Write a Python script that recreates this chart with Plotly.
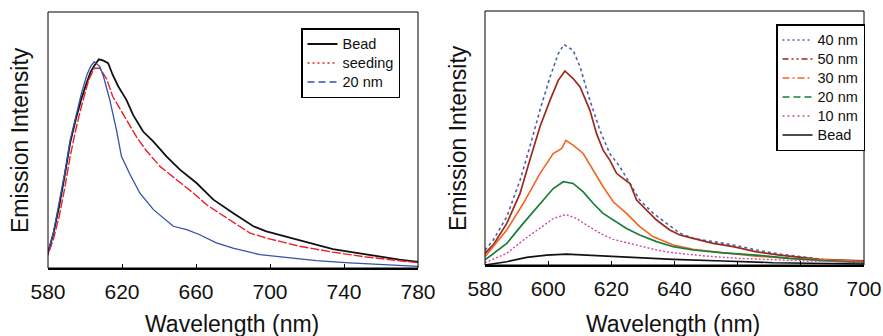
import plotly.graph_objects as go

# ---------- Left panel data ----------
bead_l_x = [578, 580, 583, 586, 589, 592, 595, 598, 601, 603, 605, 607.5, 610, 612.5, 615, 618, 622.4, 626, 631.4, 637, 644, 651.3, 660.3, 669.4, 680, 691, 698, 711, 725, 734, 745, 756, 770, 782]
bead_l_y = [3.3, 5.9, 13.7, 24, 36, 49, 58, 66, 72.5, 76.5, 79, 81.5, 81, 80, 75.4, 70.9, 65.7, 59.8, 53.3, 49.4, 43.6, 38.4, 33.2, 26.7, 21.5, 16.3, 14.3, 11.7, 9.1, 7.4, 6.1, 4.8, 3.3, 2.2]

seed_x = [578, 580, 583, 586, 589, 592, 595, 598, 602, 605, 608, 611.6, 615, 620.6, 628, 633, 640.5, 649.5, 658.5, 665.7, 676.6, 689, 698, 716, 734, 752, 782]
seed_y = [3.0, 5.2, 11.5, 20, 31, 43.6, 54, 63, 73.5, 78, 78, 74, 67, 60, 51, 46, 39.7, 34.5, 29.3, 24.7, 19.5, 13.7, 11.7, 8.5, 6.2, 4.3, 1.9]

nm20_l_x = [578, 580, 583, 586, 589, 592, 595, 598, 601, 603, 605, 608, 610, 613.4, 617, 619.7, 624, 629.6, 637, 647.7, 655, 662, 671, 680, 694.6, 707, 725, 743, 782]
nm20_l_y = [3.3, 6.2, 14, 25, 37, 50, 59, 68, 75.4, 78.7, 80.6, 78.7, 74.8, 65.7, 54, 43.6, 37, 29.3, 22.8, 16.3, 15, 13, 9.8, 7.8, 5.2, 4.2, 2.9, 2.0, 0.6]

# ---------- Right panel data ----------
nm40_x = [580, 582.6, 586.9, 591.1, 594.2, 597.4, 600.6, 603.2, 605, 607.9, 610.1, 613.2, 616.4, 619.5, 622.7, 625.9, 629, 633.3, 637.5, 641.7, 645.9, 652.2, 658.6, 666, 673.3, 679.7, 687, 692.3, 701.3]
nm40_y = [5.9, 9.8, 19, 33.4, 46.5, 61, 74, 83.2, 86.8, 84.5, 78, 64.9, 53, 43.9, 38.7, 32.1, 25.6, 20.3, 16.4, 12.5, 10.5, 9.2, 7.9, 5.9, 4.3, 3.3, 2.2, 1.7, 1.3]

nm50_x = [580, 582.6, 586.9, 591.1, 594.2, 597.4, 600.6, 603.2, 605.3, 607.9, 610.1, 613.2, 615.3, 617.4, 619.5, 621.7, 623.8, 625.9, 628, 631.1, 634.3, 638.5, 641.7, 645.9, 652.2, 658.6, 666, 673.3, 679.7, 686, 701.3]
nm50_y = [4.6, 7.9, 16.4, 28.2, 41.3, 54.4, 64.9, 72.7, 76.4, 73.4, 70.1, 61, 51.8, 45.2, 41.3, 36, 34, 32.1, 25.6, 21.6, 17.7, 13.8, 11.8, 10.5, 8.5, 7.2, 5.2, 3.9, 3.0, 2.2, 1.6]

nm30_x = [580, 586.9, 592.1, 597.4, 601.6, 604.3, 605.6, 607.9, 611.1, 614.3, 617.4, 620.6, 624.8, 629, 633.3, 639.6, 645.9, 655.4, 665.9, 676.5, 687, 701.3]
nm30_y = [3.3, 13.8, 24.2, 36, 43.9, 45.9, 49.1, 47.2, 43.9, 37.4, 30.8, 24.9, 20.3, 15.1, 11.1, 7.9, 6.2, 4.8, 3.5, 2.6, 2.0, 1.3]

nm20_r_x = [580, 586.9, 592.1, 597.4, 601.6, 604.8, 607.9, 611.1, 614.3, 617.4, 620.6, 624.8, 629, 634.3, 639.6, 645.9, 655.4, 665.9, 676.5, 687, 701.3]
nm20_r_y = [2.0, 8.5, 16.4, 24.2, 30.1, 32.8, 32.1, 28.8, 24.2, 20.3, 17.7, 14.4, 11.8, 9.2, 7.2, 5.9, 4.8, 3.9, 2.6, 1.7, 0.9]

nm10_x = [580, 586.9, 592.1, 597.4, 601.6, 605.6, 609, 612.2, 616.4, 620.6, 624.8, 629, 634.3, 639.6, 650.1, 660.7, 671.2, 681.8, 701.3]
nm10_y = [0.9, 4.6, 9.8, 14.4, 18.3, 19.9, 18.3, 15.7, 12.5, 10.1, 8.9, 7.5, 5.9, 4.8, 3.5, 2.6, 2.0, 1.6, 1.0]

bead_r_x = [580, 586.9, 593.2, 599.5, 605.8, 612.2, 618.5, 629, 639.6, 655.4, 671.2, 701.3]
bead_r_y = [0.0, 1.3, 3.0, 3.9, 4.3, 3.9, 3.3, 2.9, 2.2, 1.6, 0.9, 0.4]

left_ticks = [580, 620, 660, 700, 740, 780]
right_ticks = [580, 600, 620, 640, 660, 680, 700]

FONT = "Liberation Sans, Arial, sans-serif"

fig = go.Figure()

# series: (x, y, name, color, plot dash, legend dash, width, axes, legend)
series = [
    (bead_l_x, bead_l_y, "Bead", "#111111", "solid", "solid", 1.8, "x", "y", "legend"),
    (seed_x, seed_y, "seeding", "#e8202a", "9px,2px", "2px,3px", 1.4, "x", "y", "legend"),
    (nm20_l_x, nm20_l_y, "20 nm", "#3352a8", "solid", "7px,4px", 1.3, "x", "y", "legend"),
    (nm40_x, nm40_y, "40 nm", "#4a63b0", "3px,3px", "2px,3px", 1.6, "x2", "y2", "legend2"),
    (nm50_x, nm50_y, "50 nm", "#9b2a1a", "solid", "6px,3px,2px,3px,2px,3px", 1.7, "x2", "y2", "legend2"),
    (nm30_x, nm30_y, "30 nm", "#f26522", "solid", "7px,3px,2px,3px", 1.6, "x2", "y2", "legend2"),
    (nm20_r_x, nm20_r_y, "20 nm", "#1a7d3a", "solid", "7px,4px", 1.7, "x2", "y2", "legend2"),
    (nm10_x, nm10_y, "10 nm", "#d04aa0", "2px,2px", "2px,3px", 1.4, "x2", "y2", "legend2"),
    (bead_r_x, bead_r_y, "Bead", "#111111", "solid", "solid", 1.6, "x2", "y2", "legend2"),
]

for x, y, name, color, pdash, ldash, w, xa, ya, lg in series:
    # drawn curve
    fig.add_trace(go.Scatter(x=x, y=y, mode="lines", showlegend=False,
                             line=dict(color=color, dash=pdash, width=w),
                             xaxis=xa, yaxis=ya))
    # legend entry (empty trace carrying the legend line style)
    fig.add_trace(go.Scatter(x=[None], y=[None], mode="lines",
                             name='<span style="font-size:14.5px">' + name + '</span>',
                             line=dict(color=color, dash=ldash, width=w),
                             xaxis=xa, yaxis=ya, legend=lg))

W, H = 883, 336
lx0, lx1, ly0, ly1 = 48, 418, 268, 12
rx0, rx1, ry0, ry1 = 485, 864, 265, 11

axis_common = dict(showgrid=False, zeroline=False, showline=True, linecolor="black",
                   linewidth=2, ticks="inside", ticklen=4, tickcolor="black",
                   automargin=False, ticklabelstandoff=4,
                   tickfont=dict(family=FONT, size=21, color="#111"))

TITLE_SIZE = 23

fig.update_layout(
    width=W, height=H, margin=dict(l=0, r=0, t=0, b=0, autoexpand=False),
    paper_bgcolor="white", plot_bgcolor="white",
    font=dict(family=FONT, color="#111"),
    xaxis=dict(domain=[lx0 / W, lx1 / W], range=[580, 780], tickvals=left_ticks,
               anchor="y", **axis_common),
    yaxis=dict(domain=[1 - ly0 / H, 1 - ly1 / H], range=[0, 100], showticklabels=False,
               showgrid=False, zeroline=False, showline=False, anchor="x", automargin=False),
    xaxis2=dict(domain=[rx0 / W, rx1 / W], range=[580, 700], tickvals=right_ticks,
                anchor="y2", **axis_common),
    yaxis2=dict(domain=[1 - ry0 / H, 1 - ry1 / H], range=[0, 100], showticklabels=False,
                showgrid=False, zeroline=False, showline=False, anchor="x2", automargin=False),
    legend=dict(x=301 / W, y=1 - 28 / H, xanchor="left", yanchor="top",
                bordercolor="black", borderwidth=1.5, bgcolor="white",
                font=dict(family=FONT, size=12, color="#111"),
                tracegroupgap=0, itemwidth=30),
    legend2=dict(x=776 / W, y=1 - 24 / H, xanchor="left", yanchor="top",
                 bordercolor="black", borderwidth=1.5, bgcolor="white",
                 font=dict(family=FONT, size=12, color="#111"),
                 tracegroupgap=0, itemwidth=30),
    shapes=[
        dict(type="rect", xref="paper", yref="paper", x0=lx0 / W, x1=lx1 / W,
             y0=1 - ly0 / H, y1=1 - ly1 / H, line=dict(color="black", width=1)),
        dict(type="rect", xref="paper", yref="paper", x0=rx0 / W, x1=rx1 / W,
             y0=1 - ry0 / H, y1=1 - ry1 / H, line=dict(color="black", width=1)),
    ],
    annotations=[
        dict(text="Wavelength (nm)", x=232 / W, y=1 - 324 / H, xref="paper", yref="paper",
             xanchor="center", yanchor="middle",
             showarrow=False, font=dict(family=FONT, size=TITLE_SIZE, color="#111")),
        dict(text="Wavelength (nm)", x=673 / W, y=1 - 324 / H, xref="paper", yref="paper",
             xanchor="center", yanchor="middle",
             showarrow=False, font=dict(family=FONT, size=TITLE_SIZE, color="#111")),
        dict(text="Emission Intensity", x=20 / W, y=1 - 140 / H, xref="paper", yref="paper",
             xanchor="center", yanchor="middle",
             showarrow=False, textangle=-90, font=dict(family=FONT, size=TITLE_SIZE, color="#111")),
        dict(text="Emission Intensity", x=458 / W, y=1 - 138 / H, xref="paper", yref="paper",
             xanchor="center", yanchor="middle",
             showarrow=False, textangle=-90, font=dict(family=FONT, size=TITLE_SIZE, color="#111")),
    ],
)

fig.write_html("out.html")
